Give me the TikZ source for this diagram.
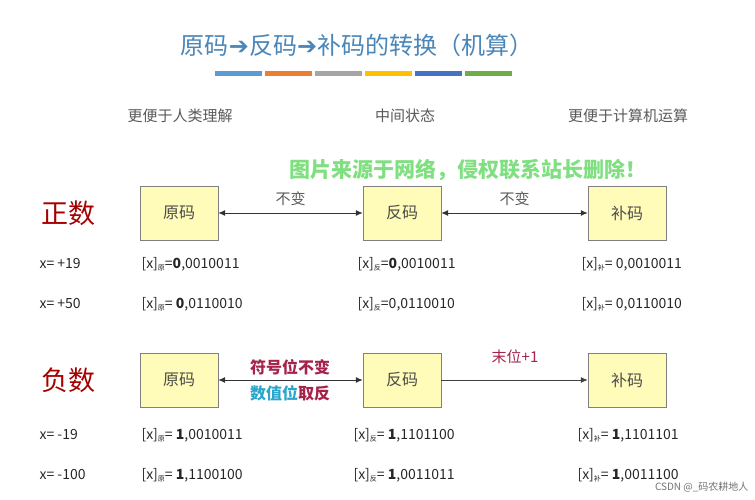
\documentclass[tikz,border=0pt]{standalone}
\usepackage{fontspec}
\setmainfont{Noto Sans CJK SC}
\newfontfamily\dv{DejaVu Sans}
\usetikzlibrary{arrows.meta}
\begin{document}
\begin{tikzpicture}[x=1pt,y=-1pt,
 box/.style={draw=black!50,fill=yellow!28!white,minimum width=78pt,minimum height=54pt,font=\fontsize{16}{16}\selectfont,text=black!70},
 lab/.style={font=\fontsize{14}{14}\selectfont,text=black!85,anchor=west},
 hd/.style={font=\fontsize{15}{15}\selectfont,text=black!65},
 arr/.style={line width=1pt,black!75,-{Latex[length=7pt,width=6pt]}},
 darr/.style={line width=1pt,black!80,{Latex[length=7pt,width=6pt]}-{Latex[length=7pt,width=6pt]}},
 big/.style={font=\fontsize{27}{27}\selectfont,text=red!65!black}]
\useasboundingbox (0,0) rectangle (755,500);
\definecolor{tt}{HTML}{4A86B8}
\node[font=\fontsize{24}{24}\selectfont,text=tt] (title) at (357,45) {原码{\dv\bfseries ➔}反码{\dv\bfseries ➔}补码的转换（机算）};
\foreach \c [count=\i] in {5B9BD5,ED7D31,A5A5A5,FFC000,4472C4,70AD47}{
 \definecolor{bc}{HTML}{\c}
 \fill[bc] (215+\i*50-50,71) rectangle ++(47,5);}
\node[hd] (h1) at (180,116) {更便于人类理解};
\node[hd] (h2) at (405,116) {中间状态};
\node[hd] (h3) at (628,116) {更便于计算机运算};
\node[font=\fontsize{21}{21}\selectfont\bfseries,text=green!75!black!50] (wm) at (468,170) {图片来源于网络，侵权联系站长删除！};
\node[big] (pos) at (68,213) {正数};
\node[box] (a1) at (179,213) {原码};
\node[box] (b1) at (402,213) {反码};
\node[box] (c1) at (627,213) {补码};
\draw[darr] (a1) -- node[above=3pt,hd] {不变} (b1);
\draw[darr] (b1) -- node[above=3pt,hd] {不变} (c1);
\node[lab] (x1) at (36,264) {x= +19};
\node[lab] (p1) at (138,264) {[x]\raisebox{-2pt}{\scriptsize 原}=\textbf{0},0010011};
\node[lab] (q1) at (354,264) {[x]\raisebox{-2pt}{\scriptsize 反}=\textbf{0},0010011};
\node[lab] (r1) at (578,264) {[x]\raisebox{-2pt}{\scriptsize 补}= 0,0010011};
\node[lab] (x2) at (36,304) {x= +50};
\node[lab] (p2) at (138,304) {[x]\raisebox{-2pt}{\scriptsize 原}= \textbf{0},0110010};
\node[lab] (q2) at (354,304) {[x]\raisebox{-2pt}{\scriptsize 反}=0,0110010};
\node[lab] (r2) at (578,304) {[x]\raisebox{-2pt}{\scriptsize 补}= 0,0110010};
\node[big] (neg) at (68,380) {负数};
\node[box] (a2) at (179,380) {原码};
\node[box] (b2) at (402,380) {反码};
\node[box] (c2) at (627,380) {补码};
\draw[darr] (a2) -- (b2);
\draw[arr] (b2) -- (c2);
\definecolor{dr}{HTML}{A3234B}\definecolor{cy}{HTML}{2AA6CC}
\node[font=\fontsize{16}{16}\selectfont\bfseries,text=dr] (s1) at (290,367) {符号位不变};
\node[font=\fontsize{16}{16}\selectfont\bfseries] (s2) at (290,393) {\textcolor{cy}{数值位}\textcolor{dr}{取反}};
\node[font=\fontsize{15}{15}\selectfont,text=dr] (s3) at (515,357) {末位+1};
\node[lab] (x3) at (36,435) {x= -19};
\node[lab] (p3) at (138,435) {[x]\raisebox{-2pt}{\scriptsize 原}= \textbf{1},0010011};
\node[lab] (q3) at (350,435) {[x]\raisebox{-2pt}{\scriptsize 反}= \textbf{1},1101100};
\node[lab] (r3) at (574,435) {[x]\raisebox{-2pt}{\scriptsize 补}= \textbf{1},1101101};
\node[lab] (x4) at (36,475) {x= -100};
\node[lab] (p4) at (138,475) {[x]\raisebox{-2pt}{\scriptsize 原}= \textbf{1},1100100};
\node[lab] (q4) at (350,475) {[x]\raisebox{-2pt}{\scriptsize 反}= \textbf{1},0011011};
\node[lab] (r4) at (574,475) {[x]\raisebox{-2pt}{\scriptsize 补}= \textbf{1},0011100};
\node[font=\fontsize{10}{10}\selectfont,text=black!55,anchor=east] (csdn) at (752,487) {CSDN @\_码农耕地人};
\end{tikzpicture}
\end{document}
